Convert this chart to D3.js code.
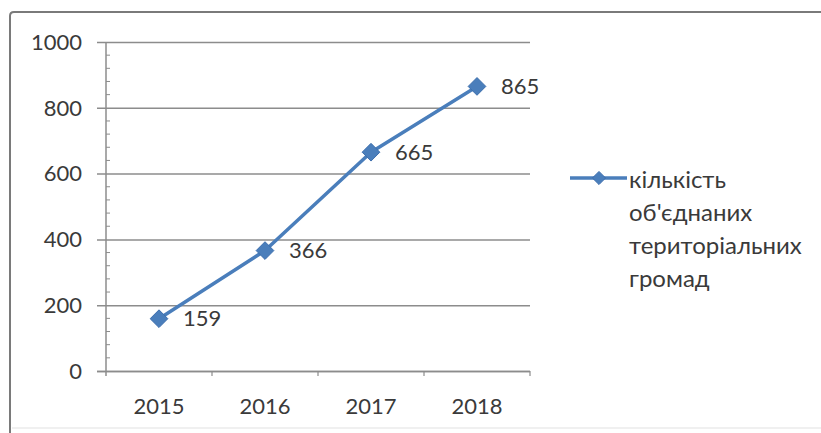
<!DOCTYPE html>
<html>
<head>
<meta charset="utf-8">
<script src="https://cdn.jsdelivr.net/npm/d3@7"></script>
<style>
  html, body { margin: 0; padding: 0; background: #fff; }
  svg { display: block; }
  text { font-family: Lato, "Open Sans", sans-serif; fill: #3a3a3a; }
</style>
</head>
<body>
<svg id="chart" width="821" height="433"></svg>
<script>
// Number of united territorial communities by year
const years = ["2015", "2016", "2017", "2018"];
const counts = [159, 366, 665, 865];
const yTicks = [0, 200, 400, 600, 800, 1000];
const legendLines = ["кількість", "об'єднаних", "територіальних", "громад"];

const W = 821, H = 433;
const plot = { left: 106, right: 530, top: 42, bottom: 371 };
const blue = "#4A7EBB";
const gridColor = "#8c8c8c";

const svg = d3.select("#chart");

// chart frame (top and left edges)
svg.append("rect").attr("x", 0).attr("y", 0).attr("width", W).attr("height", H).attr("fill", "#fff");
svg.append("path")
  .attr("d", `M10,${H} L10,16 Q10,12 14,12 L${W},12`)
  .attr("fill", "none").attr("stroke", "#7a7a7a").attr("stroke-width", 2);
svg.append("line").attr("x1", 12).attr("x2", W).attr("y1", H - 5).attr("y2", H - 5)
  .attr("stroke", "#f0f0f0").attr("stroke-width", 2);

const x = d3.scaleBand().domain(years).range([plot.left, plot.right]).paddingInner(0).paddingOuter(0);
const y = d3.scaleLinear().domain([0, 1000]).range([plot.bottom, plot.top]);

// horizontal gridlines with outward major ticks
svg.append("g")
  .attr("transform", `translate(${plot.left},0)`)
  .call(d3.axisLeft(y).tickValues(yTicks).tickSize(-(plot.right - plot.left)).tickSizeOuter(0).tickFormat(""))
  .call(g => g.select(".domain").remove())
  .call(g => g.selectAll(".tick line").attr("stroke", gridColor).attr("stroke-width", 1.5)
    .attr("x1", -9));

// minor ticks inside the value axis
const minor = d3.range(0, 1000, 40).filter(v => v % 200 !== 0);
svg.append("g").selectAll("line").data(minor).join("line")
  .attr("x1", plot.left).attr("x2", plot.left + 4)
  .attr("y1", d => y(d)).attr("y2", d => y(d))
  .attr("stroke", gridColor).attr("stroke-width", 1);

// value axis line
svg.append("line")
  .attr("x1", plot.left).attr("x2", plot.left).attr("y1", plot.top).attr("y2", plot.bottom + 5)
  .attr("stroke", gridColor).attr("stroke-width", 1.5);

// value axis labels
svg.append("g").selectAll("text").data(yTicks).join("text")
  .attr("x", 82).attr("y", d => y(d)).attr("dy", "0.35em")
  .attr("text-anchor", "end").attr("font-size", 22)
  .text(d => d);

// category axis
const xAxis = svg.append("g")
  .attr("transform", `translate(0,${plot.bottom})`)
  .call(d3.axisBottom(x).tickSize(0).tickSizeOuter(0));
xAxis.select(".domain").attr("stroke", gridColor).attr("stroke-width", 1.5)
  .attr("d", `M${plot.left - 9},0.5H${plot.right}`);
xAxis.selectAll(".tick text").attr("font-size", 22).attr("dy", 0).attr("y", 43)
  .attr("fill", "#3a3a3a").attr("font-family", "Lato, 'Open Sans', sans-serif");
xAxis.selectAll(".tick line").remove();

// category boundary ticks
const bounds = years.map(d => x(d) + x.bandwidth());
svg.append("g").selectAll("line").data(bounds).join("line")
  .attr("x1", d => d).attr("x2", d => d)
  .attr("y1", plot.bottom).attr("y2", plot.bottom + 5)
  .attr("stroke", gridColor).attr("stroke-width", 1.2);

// series line
const cx = d => x(d) + x.bandwidth() / 2;
const pts = years.map((d, i) => [cx(d), y(counts[i])]);
svg.append("path")
  .attr("d", d3.line()(pts))
  .attr("fill", "none").attr("stroke", blue).attr("stroke-width", 3.5)
  .attr("stroke-linejoin", "round");

// diamond markers
const diamond = d3.symbol().type(d3.symbolDiamond2).size(200);
svg.append("g").selectAll("path").data(pts).join("path")
  .attr("transform", p => `translate(${p[0]},${p[1]})`)
  .attr("d", diamond)
  .attr("fill", blue).attr("stroke", "#3c6ead").attr("stroke-width", 1);

// data labels
svg.append("g").selectAll("text").data(counts).join("text")
  .attr("x", (d, i) => pts[i][0] + 24).attr("y", (d, i) => pts[i][1])
  .attr("dy", "0.35em").attr("font-size", 22)
  .text(d => d);

// legend
const lg = svg.append("g");
lg.append("line").attr("x1", 570).attr("x2", 627).attr("y1", 178).attr("y2", 178)
  .attr("stroke", blue).attr("stroke-width", 3.5);
lg.append("path").attr("transform", "translate(599,178)")
  .attr("d", d3.symbol().type(d3.symbolDiamond2).size(110))
  .attr("fill", blue).attr("stroke", "#3c6ead").attr("stroke-width", 1);
lg.selectAll("text").data(legendLines).join("text")
  .attr("x", 629).attr("y", (d, i) => 180 + i * 33)
  .attr("dy", "0.35em").attr("font-size", 24)
  .text(d => d);
</script>
</body>
</html>
